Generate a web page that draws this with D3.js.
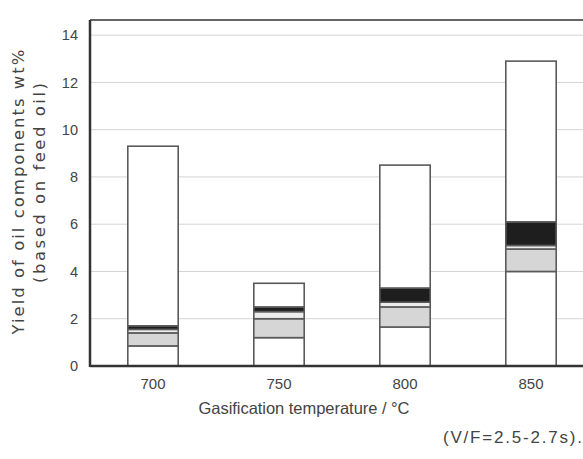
<!DOCTYPE html>
<html>
<head>
<meta charset="utf-8">
<script src="https://cdn.jsdelivr.net/npm/d3@7"></script>
<style>
  body { margin: 0; background: #fff; }
  svg { display: block; font-family: "Liberation Sans", Arial, sans-serif; }
</style>
</head>
<body>
<div id="chart"></div>
<script>
const W = 583, H = 459;

// data (wt%, stacked from the bottom)
const temps = ['700', '750', '800', '850'];
const compA = [0.85, 1.2, 1.65, 4.0];   // bottom, white
const compB = [0.55, 0.8, 0.85, 0.95];  // light gray
const compC = [0.15, 0.3, 0.2, 0.15];   // thin pale band
const compD = [0.15, 0.2, 0.6, 1.0];    // dark
const compE = [7.6, 1.0, 5.2, 6.8];     // top, white
const yTicks = [0, 2, 4, 6, 8, 10, 12, 14];

const keys = ['A', 'B', 'C', 'D', 'E'];
const fills = { A: '#ffffff', B: '#d6d6d6', C: '#ececec', D: '#1e1e1e', E: '#ffffff' };

const rows = temps.map((t, i) => ({
  t, A: compA[i], B: compB[i], C: compC[i], D: compD[i], E: compE[i]
}));

const margin = { top: 20, left: 90, bottom: 93 };
const plotBottom = H - margin.bottom;

const svg = d3.select('#chart').append('svg')
  .attr('width', W).attr('height', H);

// x: band scale, plot continues past the right edge of the picture
const x = d3.scaleBand()
  .domain(temps)
  .range([margin.left, 594])
  .paddingInner(0.6)
  .paddingOuter(0.3);

const y = d3.scaleLinear()
  .domain([0, 14.64])
  .range([plotBottom, margin.top]);

// gridlines
svg.append('g')
  .selectAll('line')
  .data(yTicks.filter(d => d > 0))
  .enter().append('line')
    .attr('x1', margin.left).attr('x2', W)
    .attr('y1', d => y(d)).attr('y2', d => y(d))
    .attr('stroke', '#d4d4d4').attr('stroke-width', 1);

// stacked bars
const stack = d3.stack().keys(keys)(rows);
svg.append('g')
  .selectAll('g')
  .data(stack)
  .enter().append('g')
    .attr('fill', d => fills[d.key])
  .selectAll('rect')
  .data(d => d)
  .enter().append('rect')
    .attr('x', d => x(d.data.t))
    .attr('y', d => y(d[1]))
    .attr('width', x.bandwidth())
    .attr('height', d => y(d[0]) - y(d[1]))
    .attr('stroke', '#5a5a5a')
    .attr('stroke-width', 1.6);

// frame
svg.append('line')
  .attr('x1', margin.left).attr('x2', W)
  .attr('y1', margin.top).attr('y2', margin.top)
  .attr('stroke', '#333').attr('stroke-width', 1.5);
svg.append('line')
  .attr('x1', margin.left).attr('x2', W)
  .attr('y1', plotBottom).attr('y2', plotBottom)
  .attr('stroke', '#333').attr('stroke-width', 2.5);
svg.append('line')
  .attr('x1', margin.left).attr('x2', margin.left)
  .attr('y1', margin.top).attr('y2', plotBottom + 1)
  .attr('stroke', '#333').attr('stroke-width', 2.5);

// y axis labels
const yAxis = d3.axisLeft(y).tickValues(yTicks).tickSize(0).tickPadding(12);
const gy = svg.append('g')
  .attr('transform', `translate(${margin.left},0)`)
  .call(yAxis);
gy.select('.domain').remove();
gy.selectAll('text')
  .attr('font-size', 14.5)
  .attr('fill', '#444')
  .attr('font-family', '"Liberation Sans", Arial, sans-serif');

// x axis labels
const xAxis = d3.axisBottom(x).tickSize(0).tickPadding(12);
const gx = svg.append('g')
  .attr('transform', `translate(0,${plotBottom})`)
  .call(xAxis);
gx.select('.domain').remove();
gx.selectAll('text')
  .attr('font-size', 15)
  .attr('fill', '#444')
  .attr('font-family', '"Liberation Sans", Arial, sans-serif');

// titles
svg.append('text')
  .attr('x', 304).attr('y', 414)
  .attr('text-anchor', 'middle')
  .attr('font-size', 16.5)
  .attr('fill', '#444')
  .attr('textLength', 211)
  .text('Gasification temperature / °C');

svg.append('text')
  .attr('x', 582).attr('y', 443)
  .attr('text-anchor', 'end')
  .attr('font-size', 17)
  .attr('fill', '#444')
  .attr('textLength', 139)
  .text('(V/F=2.5-2.7s).');

svg.append('text')
  .attr('transform', 'translate(24,192) rotate(-90)')
  .attr('text-anchor', 'middle')
  .attr('font-size', 16.5)
  .attr('font-family', '"DejaVu Sans", sans-serif')
  .attr('fill', '#444')
  .attr('textLength', 285)
  .text('Yield of oil components wt%');

svg.append('text')
  .attr('transform', 'translate(45,183) rotate(-90)')
  .attr('text-anchor', 'middle')
  .attr('font-size', 16.5)
  .attr('font-family', '"DejaVu Sans", sans-serif')
  .attr('fill', '#444')
  .attr('textLength', 200)
  .text('(based on feed oil)');
</script>
</body>
</html>
